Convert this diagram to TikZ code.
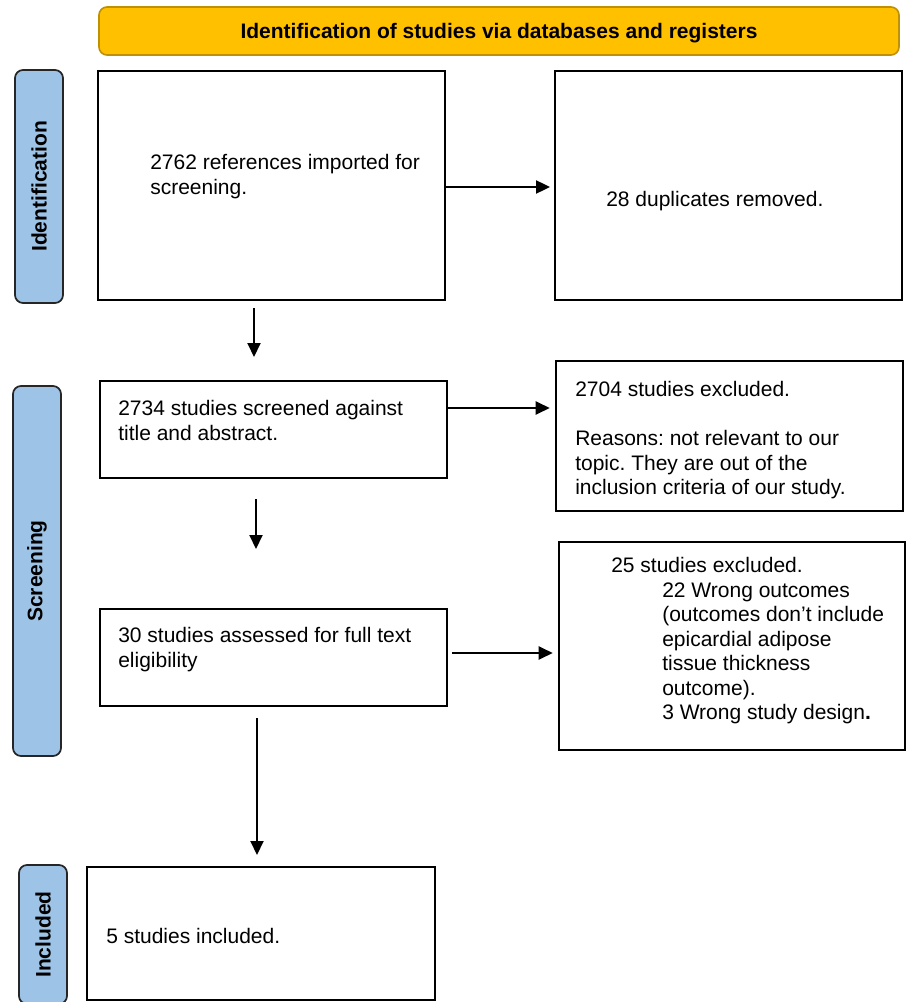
\documentclass[tikz,border=0pt]{standalone}
\usepackage{fontspec}
\setmainfont{Liberation Sans}
\usepackage{xcolor}
\usetikzlibrary{arrows.meta}

\definecolor{headgold}{HTML}{FFC000}
\definecolor{headedge}{HTML}{BF9000}
\definecolor{stageblue}{HTML}{9DC3E6}

\tikzset{
  box/.style={draw, line width=1.4pt, inner sep=0pt},
  stage/.style={draw=black!85, fill=stageblue, rounded corners=6pt, line width=1.3pt,
    rotate=90, minimum height=36pt, inner sep=0pt, font=\bfseries},
  txt/.style={anchor=north west, inner sep=0pt, align=left},
  arr/.style={-{Triangle[length=10.5pt,width=9.75pt]}, line width=1.5pt}
}

\begin{document}
\begin{tikzpicture}[x=0.75pt, y=-0.75pt]
\fontsize{15.75}{18.4}\selectfont\frenchspacing
\useasboundingbox (0,0) rectangle (906,1002);

% header
\node[draw=headedge, fill=headgold, rounded corners=6pt, line width=1.2pt,
  minimum width=600pt, minimum height=36pt, text depth=0.3pt, font=\bfseries] (head) at (499,31)
  {Identification of studies via databases and registers};

% stages
\node[stage, minimum width=174.75pt] (stident) at (39,186.5) {Identification};
\node[stage, minimum width=277.5pt] (stscreen) at (37,571) {Screening};
\node[stage, minimum width=104.25pt] (stincl) at (43,934.5) {Included};

% boxes
\node[box, minimum width=260.25pt, minimum height=171.75pt] (ident) at (271.5,185.5) {};
\node[box, minimum width=260.25pt, minimum height=171.75pt] (dupl) at (728.5,185.5) {};
\node[box, minimum width=260.25pt, minimum height=72.75pt] (screen) at (273.5,429.5) {};
\node[box, minimum width=260.25pt, minimum height=112.5pt] (excl) at (729.5,436) {};
\node[box, minimum width=260.25pt, minimum height=72.75pt] (full) at (273.5,657.5) {};
\node[box, minimum width=259.5pt, minimum height=156pt] (fullex) at (732,646) {};
\node[box, minimum width=261pt, minimum height=99.75pt] (incl) at (261,933.5) {};

% texts
\node[txt] (identtxt) at (150,154) {2762 references imported for\\screening.};
\node[txt] (dupltxt) at (606,191) {28 duplicates removed.};
\node[txt] (screentxt) at (118,400) {2734 studies screened against\\title and abstract.};
\node[txt] (excltxt) at (575,381) {2704 studies excluded.\\[18.4pt]Reasons: not relevant to our\\topic. They are out of the\\inclusion criteria of our study.};
\node[txt] (fulltxt) at (118,627) {30 studies assessed for full text\\eligibility};
\node[txt] (fullextxt) at (611,557) {25 studies excluded.\\
  \hspace*{38.25pt}22 Wrong outcomes\\
  \hspace*{38.25pt}(outcomes don’t include\\
  \hspace*{38.25pt}epicardial adipose\\
  \hspace*{38.25pt}tissue thickness\\
  \hspace*{38.25pt}outcome).\\
  \hspace*{38.25pt}3 Wrong study design\textbf{.}};
\node[txt] (incltxt) at (106,928) {5 studies included.};

% arrows
\coordinate (d1a) at (254,308);
\coordinate (d1b) at (254,357);
\coordinate (d2a) at (256,499);
\coordinate (d2b) at (256,549);
\coordinate (d3a) at (257,718);
\coordinate (d3b) at (257,855);

\draw[arr, shorten >=3pt] (ident.east |- 0,187) -- (dupl.west |- 0,187);
\draw[arr, shorten >=4pt] (screen.east |- 0,408) -- (excl.west |- 0,408);
\draw[arr, shorten <=3pt, shorten >=4pt] (full.east |- 0,653) -- (fullex.west |- 0,653);
\draw[arr] (d1a) -- (d1b);
\draw[arr] (d2a) -- (d2b);
\draw[arr] (d3a) -- (d3b);
\end{tikzpicture}
\end{document}
